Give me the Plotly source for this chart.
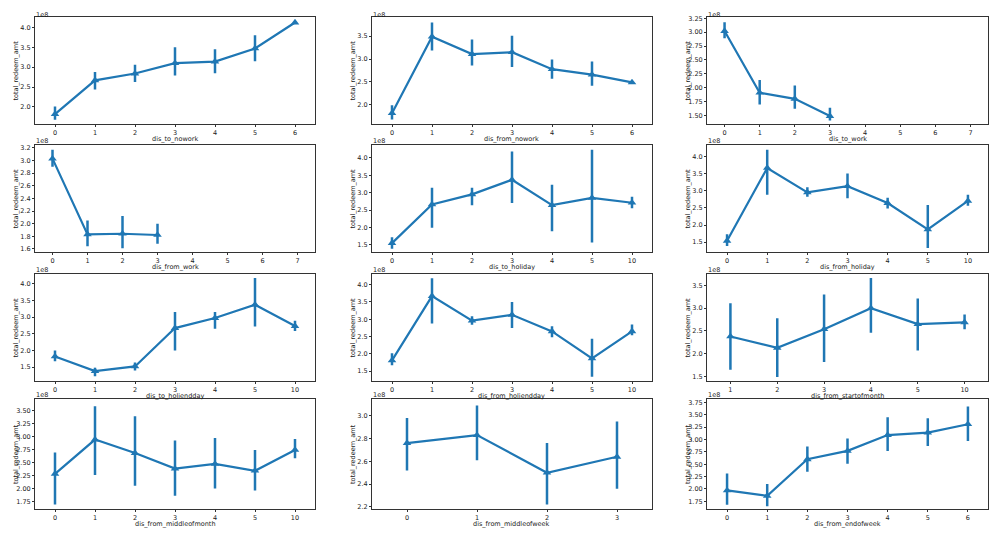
import plotly.graph_objects as go

# ---- data (values in units of 1e8) ----
titles = ["dis_to_nowork", "dis_from_nowork", "dis_to_work",
          "dis_from_work", "dis_to_holiday", "dis_from_holiday",
          "dis_to_holiendday", "dis_from_holiendday", "dis_from_startofmonth",
          "dis_from_middleofmonth", "dis_from_middleofweek", "dis_from_endofweek"]
y_label = "total_redeem_amt"

cats_to_nowork = ["0", "1", "2", "3", "4", "5", "6"]
mean_to_nowork = [1.82, 2.67, 2.84, 3.10, 3.14, 3.47, 4.12]
lo_to_nowork = [1.68, 2.44, 2.63, 2.79, 2.85, 3.15, 4.12]
hi_to_nowork = [2.01, 2.88, 3.06, 3.50, 3.45, 3.80, 4.12]

cats_from_nowork = ["0", "1", "2", "3", "4", "5", "6"]
mean_from_nowork = [1.82, 3.49, 3.11, 3.15, 2.78, 2.66, 2.49]
lo_from_nowork = [1.68, 3.19, 2.86, 2.83, 2.57, 2.42, 2.48]
hi_from_nowork = [1.99, 3.80, 3.43, 3.51, 2.99, 2.95, 2.50]

cats_to_work = ["0", "1", "2", "3", "4", "5", "6", "7"]
mean_to_work = [3.02, 1.91, 1.80, 1.49]
lo_to_work = [2.89, 1.70, 1.62, 1.41]
hi_to_work = [3.18, 2.14, 2.04, 1.64]

cats_from_work = ["0", "1", "2", "3", "4", "5", "6", "7"]
mean_from_work = [3.03, 1.83, 1.84, 1.82]
lo_from_work = [2.90, 1.64, 1.61, 1.68]
hi_from_work = [3.17, 2.05, 2.12, 2.00]

cats_to_holiday = ["0", "1", "2", "3", "4", "5", "10"]
mean_to_holiday = [1.55, 2.66, 2.95, 3.37, 2.64, 2.85, 2.71]
lo_to_holiday = [1.39, 1.99, 2.64, 2.70, 1.89, 1.57, 2.55]
hi_to_holiday = [1.72, 3.14, 3.14, 4.18, 3.23, 4.23, 2.88]

cats_from_holiday = ["0", "1", "2", "3", "4", "5", "10"]
mean_from_holiday = [1.54, 3.66, 2.95, 3.13, 2.64, 1.87, 2.70]
lo_from_holiday = [1.39, 2.88, 2.82, 2.78, 2.48, 1.33, 2.56]
hi_from_holiday = [1.73, 4.19, 3.10, 3.50, 2.79, 2.58, 2.88]

cats_to_holiendday = ["0", "1", "2", "3", "4", "5", "10"]
mean_to_holiendday = [1.82, 1.38, 1.52, 2.67, 2.97, 3.37, 2.73]
lo_to_holiendday = [1.68, 1.23, 1.40, 2.00, 2.65, 2.72, 2.58]
hi_to_holiendday = [2.00, 1.48, 1.64, 3.15, 3.15, 4.17, 2.89]

cats_from_holiendday = ["0", "1", "2", "3", "4", "5", "10"]
mean_from_holiendday = [1.81, 3.67, 2.96, 3.13, 2.65, 1.87, 2.65]
lo_from_holiendday = [1.67, 2.88, 2.84, 2.75, 2.48, 1.34, 2.54]
hi_from_holiendday = [2.02, 4.19, 3.09, 3.50, 2.80, 2.44, 2.85]

cats_from_startofmonth = ["1", "2", "3", "4", "5", "10"]
mean_from_startofmonth = [2.38, 2.13, 2.54, 3.00, 2.65, 2.69]
lo_from_startofmonth = [1.65, 1.49, 1.82, 2.46, 2.07, 2.54]
hi_from_startofmonth = [3.11, 2.78, 3.30, 3.66, 3.21, 2.86]

cats_from_middleofmonth = ["0", "1", "2", "3", "4", "5", "10"]
mean_from_middleofmonth = [2.28, 2.94, 2.68, 2.38, 2.47, 2.34, 2.74]
lo_from_middleofmonth = [1.69, 2.26, 2.05, 1.86, 2.00, 1.96, 2.58]
hi_from_middleofmonth = [2.69, 3.58, 3.39, 2.92, 2.97, 2.74, 2.95]

cats_from_middleofweek = ["0", "1", "2", "3"]
mean_from_middleofweek = [2.76, 2.83, 2.50, 2.64]
lo_from_middleofweek = [2.52, 2.61, 2.22, 2.36]
hi_from_middleofweek = [2.98, 3.09, 2.76, 2.95]

cats_from_endofweek = ["0", "1", "2", "3", "4", "5", "6"]
mean_from_endofweek = [1.97, 1.86, 2.60, 2.77, 3.09, 3.14, 3.31]
lo_from_endofweek = [1.68, 1.65, 2.35, 2.51, 2.77, 2.87, 2.97]
hi_from_endofweek = [2.31, 2.10, 2.86, 3.02, 3.45, 3.43, 3.67]

panels = [
    (cats_to_nowork, mean_to_nowork, lo_to_nowork, hi_to_nowork),
    (cats_from_nowork, mean_from_nowork, lo_from_nowork, hi_from_nowork),
    (cats_to_work, mean_to_work, lo_to_work, hi_to_work),
    (cats_from_work, mean_from_work, lo_from_work, hi_from_work),
    (cats_to_holiday, mean_to_holiday, lo_to_holiday, hi_to_holiday),
    (cats_from_holiday, mean_from_holiday, lo_from_holiday, hi_from_holiday),
    (cats_to_holiendday, mean_to_holiendday, lo_to_holiendday, hi_to_holiendday),
    (cats_from_holiendday, mean_from_holiendday, lo_from_holiendday, hi_from_holiendday),
    (cats_from_startofmonth, mean_from_startofmonth, lo_from_startofmonth, hi_from_startofmonth),
    (cats_from_middleofmonth, mean_from_middleofmonth, lo_from_middleofmonth, hi_from_middleofmonth),
    (cats_from_middleofweek, mean_from_middleofweek, lo_from_middleofweek, hi_from_middleofweek),
    (cats_from_endofweek, mean_from_endofweek, lo_from_endofweek, hi_from_endofweek),
]

# ---- styling / layout ----
OFF = 8                      # page body margin
W, H = 1006 - OFF, 534 - OFF  # figure size in pixels
col_px = [(35, 315), (372, 652), (707, 988)]
row_px = [(15, 123), (144, 252), (274, 382), (400, 511)]
y_ranges = [(1.57, 4.26), (1.58, 3.92), (1.345, 3.274),
            (1.548, 3.247), (1.29, 4.37), (1.21, 4.33),
            (1.08, 4.29), (1.21, 4.31), (1.40, 3.75),
            (1.60, 3.72), (2.18, 3.147), (1.59, 3.82)]
y_dticks = [0.5, 0.5, 0.25, 0.2, 0.5, 0.5, 0.5, 0.5, 0.5, 0.25, 0.2, 0.25]
y_fmts = [".1f", ".1f", ".2f", ".1f", ".1f", ".1f", ".1f", ".1f", ".1f", ".2f", ".1f", ".2f"]

BLUE = "#1f77b4"
TXT = "#1a1a1a"
FONT = "DejaVu Sans"
FS = 6.5

fig = go.Figure()
annotations = []
for i, (cats, mean, lo, hi) in enumerate(panels):
    r, c = divmod(i, 3)
    ax = "" if i == 0 else str(i + 1)
    x0, x1 = [v - OFF for v in col_px[c]]
    y0, y1 = [v - OFF for v in row_px[r]]
    xs = list(range(len(mean)))
    fig.add_trace(go.Scatter(
        x=xs, y=mean, mode="lines+markers",
        line=dict(color=BLUE, width=2.2),
        marker=dict(symbol="triangle-up", size=7.5, color=BLUE),
        error_y=dict(type="data", symmetric=False,
                     array=[h - m for h, m in zip(hi, mean)],
                     arrayminus=[m - l for m, l in zip(mean, lo)],
                     color=BLUE, thickness=2.5, width=0),
        xaxis="x" + ax, yaxis="y" + ax, showlegend=False, hoverinfo="skip"))
    common = dict(showline=True, mirror=True, linecolor="#333333", linewidth=1,
                  ticks="outside", ticklen=2, tickcolor="#333333", tickwidth=0.8,
                  showgrid=False, zeroline=False,
                  tickfont=dict(family=FONT, size=FS, color=TXT))
    fig.layout["xaxis" + ax] = dict(
        common, domain=[x0 / W, x1 / W], anchor="y" + ax,
        range=[-0.5, len(cats) - 0.5],
        tickmode="array", tickvals=list(range(len(cats))), ticktext=cats)
    fig.layout["yaxis" + ax] = dict(
        common, domain=[1 - y1 / H, 1 - y0 / H], anchor="x" + ax,
        range=list(y_ranges[i]), dtick=y_dticks[i], tick0=0, tickformat=y_fmts[i])
    # offset text
    off_top = max(y0 - 9, 0)
    annotations.append(dict(
        text="1e8", xref="paper", yref="paper", x=x0 / W, y=1 - off_top / H,
        xanchor="left", yanchor="top", showarrow=False, borderpad=0,
        font=dict(family=FONT, size=FS, color=TXT)))
    # x-axis label
    annotations.append(dict(
        text=titles[i], xref="paper", yref="paper", x=(x0 + x1) / 2 / W,
        y=1 - (y1 + 15) / H, xanchor="center", yanchor="middle", showarrow=False,
        font=dict(family=FONT, size=FS, color=TXT)))
    # y-axis label
    annotations.append(dict(
        text=y_label, xref="paper", yref="paper", x=(x0 - 19) / W,
        y=1 - (y0 + y1) / 2 / H, xanchor="center", yanchor="middle", textangle=-90,
        showarrow=False, font=dict(family=FONT, size=FS, color=TXT)))

fig.update_layout(width=W, height=H, margin=dict(l=0, r=0, t=0, b=0),
                  paper_bgcolor="white", plot_bgcolor="white",
                  annotations=annotations)
fig.write_html("out.html")
